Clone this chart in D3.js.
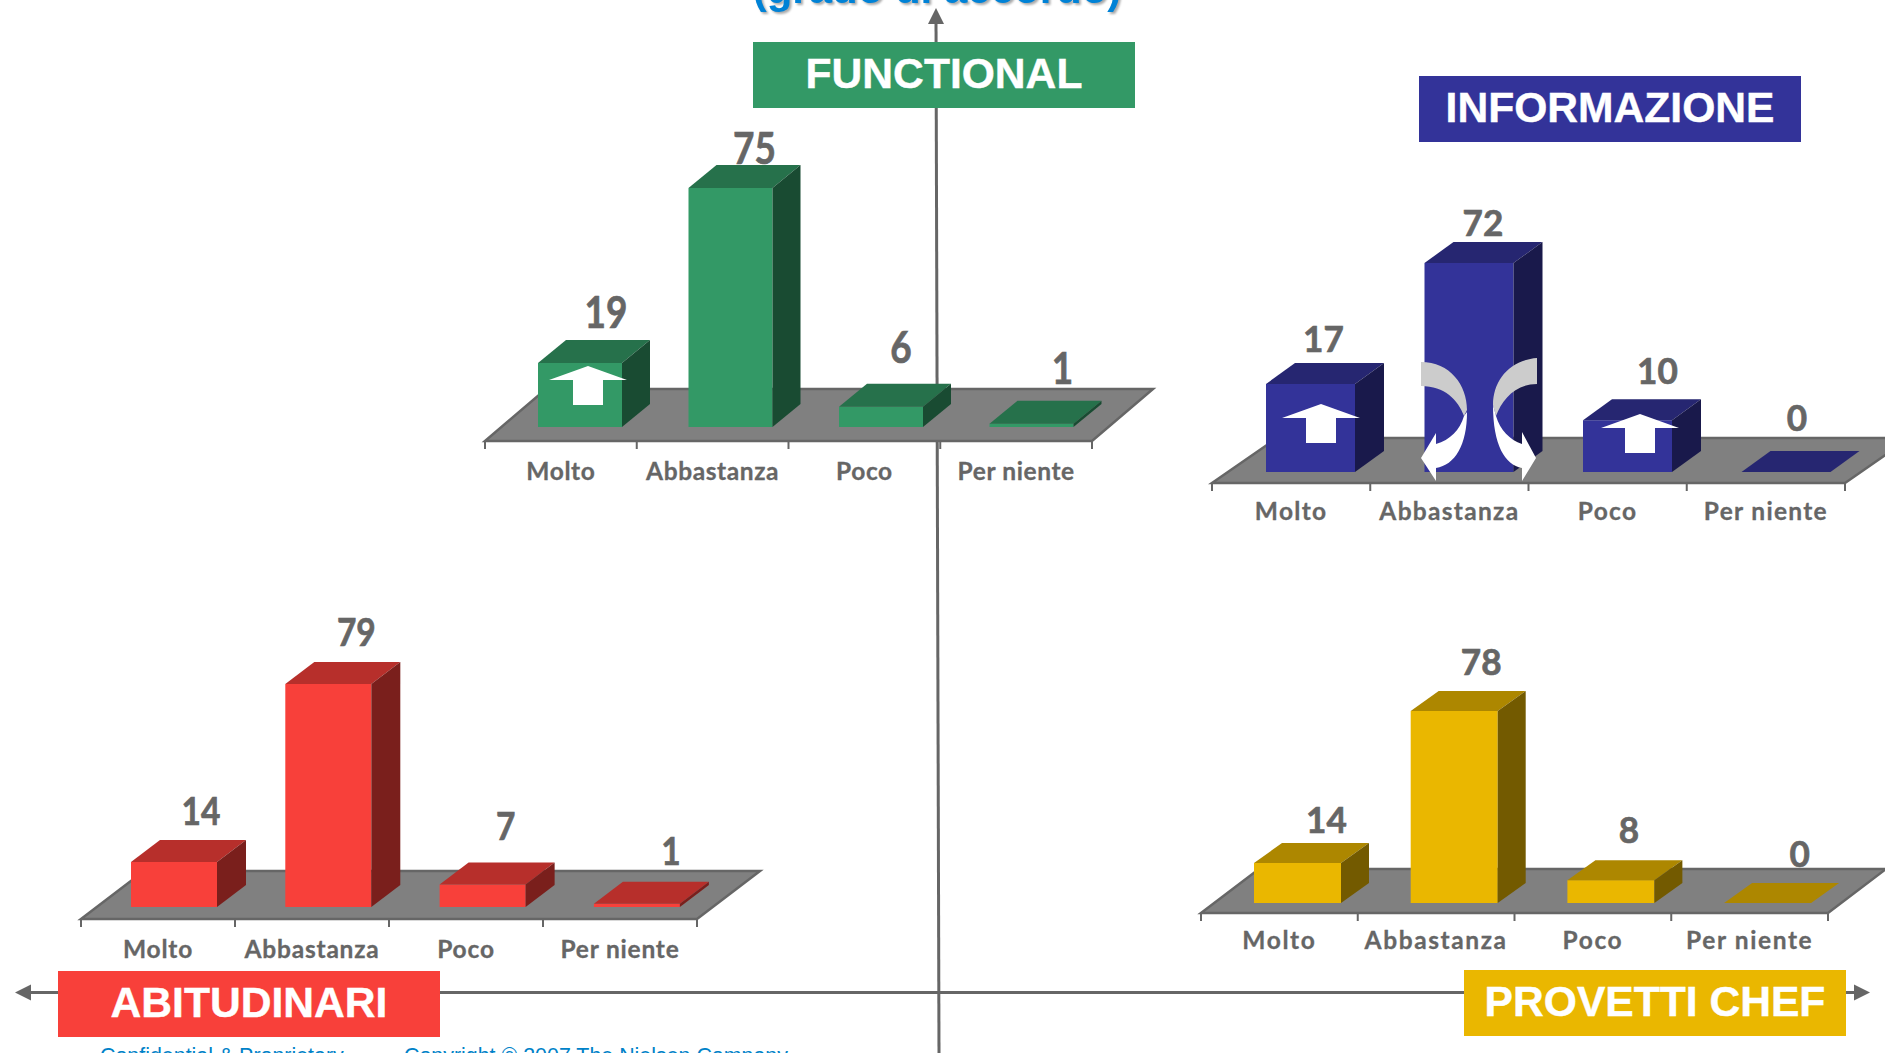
<!DOCTYPE html>
<html>
<head>
<meta charset="utf-8">
<script src="https://cdn.jsdelivr.net/npm/d3@7"></script>
<style>
  html, body { margin: 0; padding: 0; background: #fff; overflow: hidden; }
  svg { display: block; }
  .cat text { font-family: Lato, sans-serif; font-weight: 700; font-size: 24.5px; fill: #666; stroke: #666; stroke-width: 0.3px; }
  .val { font-family: Lato, sans-serif; font-weight: 700; fill: #666; stroke: #666; stroke-width: 0.7px; text-anchor: middle; }
  .head { font-family: "Liberation Sans", sans-serif; font-weight: 700; font-size: 42.6px; fill: #fff; stroke: #fff; stroke-width: 0.4px; text-anchor: middle; }
  .foot { font-family: "Liberation Sans", sans-serif; font-size: 21.4px; fill: #0082c8; }
  .title { filter: drop-shadow(2px 2px 1px #aaa); }
</style>
</head>
<body>
<svg id="chart" width="1885" height="1053"></svg>
<script>
'use strict';

const categories = ['Molto', 'Abbastanza', 'Poco', 'Per niente'];
const functionalValues = [19, 75, 6, 1];
const informazioneValues = [17, 72, 10, 0];
const abitudinariValues = [14, 79, 7, 1];
const provettiValues = [14, 78, 8, 0];

// the bars in the picture are not to one linear scale, so each panel keeps its own stops
const panels = [
    {values: functionalValues, color: '#339966',
     x0: 485, x1: 1092, floorY: 441, floorDx: 61, floorDy: 52, baseY: 427, barOff: 53, barStep: 150.5, barW: 84, dx: 28, dy: 23,
     stops: [0, 19, 75], heights: [0, 64, 239], up: [35, 24, 44, 40], side: [26, 24, 20, 31],
     valSize: 44, valSx: 0.84, catPad: 22, catSpace: 0.6,
     head: {x: 753, y: 42, label: 'FUNCTIONAL'}},
    {values: informazioneValues, color: '#333399',
     x0: 1212, x1: 1845, floorY: 483, floorDx: 65, floorDy: 45, baseY: 472, barOff: 54, barStep: 158.5, barW: 89, dx: 29, dy: 21,
     stops: [0, 17, 72], heights: [0, 88, 209], up: [32, 27, 36, 41], side: [13, 14, 30, 11],
     valSize: 37, valSx: 0.95, catPad: 20, catSpace: 1.3,
     head: {x: 1419, y: 76, label: 'INFORMAZIONE'}},
    {values: abitudinariValues, color: '#f8403a',
     x0: 81, x1: 697, floorY: 919, floorDx: 63, floorDy: 48, baseY: 907, barOff: 50, barStep: 154.3, barW: 86, dx: 29, dy: 22,
     stops: [0, 14, 79], heights: [0, 45, 223], up: [37, 38, 45, 39], side: [27, 28, 23, 34],
     valSize: 38, valSx: 0.88, catPad: 22, catSpace: 0.8,
     head: {x: 58, y: 971, label: 'ABITUDINARI'}},
    {values: provettiValues, color: '#eab700',
     x0: 1201, x1: 1828, floorY: 913, floorDx: 58, floorDy: 44, baseY: 903, barOff: 53, barStep: 156.7, barW: 87, dx: 28, dy: 20,
     stops: [0, 14, 78], heights: [0, 40, 192], up: [30, 36, 37, 36], side: [29, 27, 18, 32],
     valSize: 37, valSx: 0.95, catPad: 19, catSpace: 1.6,
     head: {x: 1464, y: 970, label: 'PROVETTI CHEF'}}
];

const axisColor = '#666';
const svg = d3.select('#chart');

// quadrant axes go under everything
svg.append('line').attr('x1', 936).attr('y1', 20).attr('x2', 939).attr('y2', 1053)
    .attr('stroke', axisColor).attr('stroke-width', 3);
svg.append('line').attr('x1', 28).attr('y1', 992.5).attr('x2', 1856).attr('y2', 992.5)
    .attr('stroke', axisColor).attr('stroke-width', 3);
svg.append('path').attr('d', 'M936,8L944,24L928,24Z').attr('fill', axisColor);
svg.append('path').attr('d', 'M15,992.5L31,984.5L31,1000.5Z').attr('fill', axisColor);
svg.append('path').attr('d', 'M1870,992.5L1854,984.5L1854,1000.5Z').attr('fill', axisColor);

// title is cut off by the top of the slide
svg.append('text').attr('class', 'title').text('(grado di accordo)').attr('x', 937).attr('y', 3)
    .attr('text-anchor', 'middle').attr('font-family', 'Liberation Sans, sans-serif')
    .attr('font-weight', 700).attr('font-size', 42).attr('fill', '#0082d6');

let drawPanel = (p) => {
    const g = svg.append('g').attr('class', 'panel');
    const x = d3.scaleBand().domain(categories).range([p.x0, p.x1]);
    // bars do not sit quite evenly in the axis bands
    const barX = d3.scaleBand().domain(categories).range([p.x0 + p.barOff, p.x0 + p.barOff + 4 * p.barStep]);
    const h = d3.scaleLinear().domain(p.stops).range(p.heights);
    const topC = d3.color(p.color).darker(0.85).formatHex();
    const sideC = d3.color(p.color).darker(2).formatHex();

    // floor
    g.append('path')
        .attr('d', `M${p.x0},${p.floorY}L${p.x1},${p.floorY}L${p.x1 + p.floorDx},${p.floorY - p.floorDy}L${p.x0 + p.floorDx},${p.floorY - p.floorDy}Z`)
        .attr('fill', '#808080').attr('stroke', axisColor).attr('stroke-width', 2.5);

    // tick marks sit on the band edges, the axis labels in the band centres
    g.selectAll('.edge')
        .data(d3.range(categories.length + 1))
        .enter().append('line')
        .attr('x1', i => p.x0 + i * x.step()).attr('x2', i => p.x0 + i * x.step())
        .attr('y1', p.floorY).attr('y2', p.floorY + 8)
        .attr('stroke', axisColor).attr('stroke-width', 2);

    const axis = d3.axisBottom(x).tickSize(0).tickPadding(p.catPad);
    g.append('g').attr('class', 'cat').attr('transform', `translate(0,${p.floorY})`)
        .call(axis)
        .call(a => a.select('.domain').remove())
        .call(a => a.selectAll('text').style('letter-spacing', p.catSpace + 'px'));

    const bars = p.values.map((v, i) => ({v, i, left: barX(categories[i]), top: p.baseY - h(v)}));

    g.selectAll('.front').data(bars).enter().append('rect')
        .attr('x', d => d.left).attr('y', d => d.top)
        .attr('width', p.barW).attr('height', d => h(d.v))
        .attr('fill', p.color);
    g.selectAll('.roof').data(bars).enter().append('path')
        .attr('d', d => `M${d.left},${d.top}l${p.dx},${-p.dy}h${p.barW}l${-p.dx},${p.dy}Z`)
        .attr('fill', topC);
    g.selectAll('.side').data(bars).enter().append('path')
        .attr('d', d => `M${d.left + p.barW},${d.top}l${p.dx},${-p.dy}v${h(d.v)}l${-p.dx},${p.dy}Z`)
        .attr('fill', sideC);

    g.selectAll('.val').data(bars).enter().append('text')
        .attr('class', 'val')
        .attr('font-size', p.valSize)
        .attr('transform', d => `translate(${d.left + p.barW / 2 + p.side[d.i]},${d.top - p.up[d.i]}) scale(${p.valSx},1)`)
        .text(d => d.v);

    g.append('rect').attr('x', p.head.x).attr('y', p.head.y).attr('width', 382).attr('height', 66).attr('fill', p.color);
    g.append('text').attr('class', 'head').attr('x', p.head.x + 191).attr('y', p.head.y + 46).text(p.head.label);
};

panels.forEach(drawPanel);

// white block arrows pasted over the slide
const upArrows = [[588, 366], [1321, 404], [1640, 414]];
svg.selectAll('.up').data(upArrows).enter().append('path')
    .attr('transform', d => `translate(${d[0]},${d[1]})`)
    .attr('d', 'M0,0L39,14H15V39H-15V14H-39Z')
    .attr('fill', '#fff');

const greyCurves = [
    'M1421,362C1450,362 1467,385 1467,410L1464,416C1458,400 1445,386 1421,386Z',
    'M1537,358C1510,360 1493,380 1493,405L1496,416C1502,400 1515,384 1537,384Z'
];
const whiteCurves = [
    'M1464,416C1460,430 1450,440 1436,444L1436,433L1421,458L1436,481L1436,468C1455,465 1467,445 1467,412Z',
    'M1496,416C1500,430 1510,440 1522,444L1522,432L1536,458L1522,481L1522,468C1505,465 1493,445 1493,405Z'
];
svg.selectAll('.grey').data(greyCurves).enter().append('path').attr('d', d => d).attr('fill', '#ccc');
svg.selectAll('.white').data(whiteCurves).enter().append('path').attr('d', d => d).attr('fill', '#fff');

svg.append('text').attr('class', 'foot').attr('x', 100).attr('y', 1063).text('Confidential & Proprietary');
svg.append('text').attr('class', 'foot').attr('x', 404).attr('y', 1063).text('Copyright © 2007 The Nielsen Company');
</script>
</body>
</html>
